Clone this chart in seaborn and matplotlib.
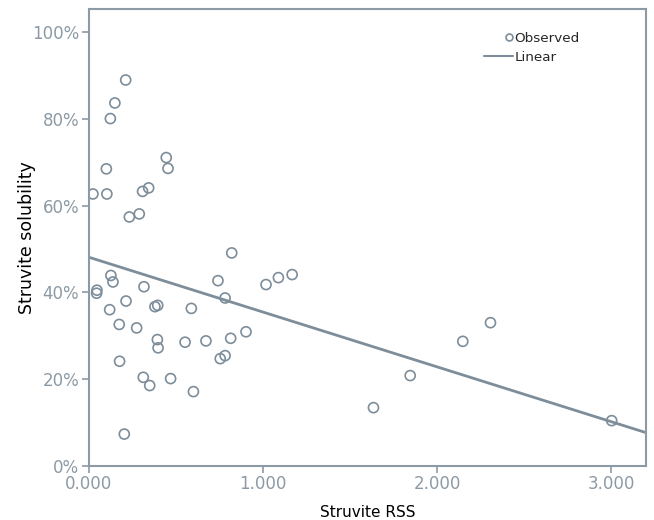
import numpy as np
import pandas as pd
import seaborn as sns
from matplotlib import pyplot as plt
from matplotlib.legend_handler import HandlerLine2D
from matplotlib.lines import Line2D
from matplotlib.ticker import FuncFormatter

# observed points (struvite RSS, solubility %)
rss = [0.211, 0.149, 0.123, 0.100, 0.023, 0.103, 0.444, 0.454, 0.308, 0.343,
       0.232, 0.289, 0.820, 0.126, 0.138, 0.046, 0.044, 0.316, 0.213, 0.119,
       0.379, 0.395, 0.588, 0.741, 0.782, 1.017, 1.088, 1.167, 0.174, 0.274,
       0.393, 0.397, 0.552, 0.672, 0.814, 0.902, 0.754, 0.782, 0.176, 0.312,
       0.349, 0.469, 0.600, 0.203, 2.306, 2.147, 1.845, 1.634, 3.002]
solubility = [89.0, 83.7, 80.1, 68.5, 62.7, 62.7, 71.1, 68.6, 63.3, 64.1,
              57.4, 58.1, 49.1, 43.9, 42.4, 40.5, 39.8, 41.3, 38.0, 36.0,
              36.7, 37.0, 36.3, 42.7, 38.7, 41.8, 43.4, 44.1, 32.6, 31.8,
              29.1, 27.2, 28.5, 28.8, 29.4, 30.9, 24.7, 25.4, 24.1, 20.4,
              18.5, 20.1, 17.1, 7.3, 33.0, 28.7, 20.8, 13.4, 10.4]

# linear fit
fit_intercept = 48.1
fit_slope = -12.65

x_ticks = [0, 1, 2, 3]
y_ticks = [0, 20, 40, 60, 80, 100]

gray = '#7d8d9a'
tick_gray = '#8c9aa5'


class RightMarker(HandlerLine2D):
    # put the legend marker at the right end of its handle box
    def create_artists(self, legend, orig_handle, xdescent, ydescent, width,
                       height, fontsize, trans):
        artists = super().create_artists(legend, orig_handle, xdescent,
                                         ydescent, width, height, fontsize,
                                         trans)
        x = -xdescent + width - 0.3 * fontsize
        artists[0].set_xdata([x, x, x])
        return artists


sns.set_style('white')
plt.rcParams['font.family'] = ['DejaVu Sans']

df = pd.DataFrame({'rss': rss, 'sol': solubility})

fig = plt.figure(figsize=(6.54, 5.2), dpi=100)
ax = fig.add_axes([0.136, 0.1044, 0.852, 0.8776])

sns.scatterplot(data=df, x='rss', y='sol', ax=ax, s=52, marker='o',
                facecolors='none', edgecolor=gray, linewidth=1.2)

xmin, xmax = 0, 3.2
line_x = np.array([xmin, xmax])
sns.lineplot(x=line_x, y=fit_intercept + fit_slope * line_x, ax=ax,
             color=gray, linewidth=2)

ax.set_xlim(xmin, xmax)
ax.set_ylim(0, 105.3)
ax.set_xticks(x_ticks)
ax.set_yticks(y_ticks)
ax.xaxis.set_major_formatter(FuncFormatter(lambda v, p: f'{v:.3f}'))
ax.yaxis.set_major_formatter(FuncFormatter(lambda v, p: f'{v:.0f}%'))

for s in ax.spines.values():
    s.set_color(tick_gray)
    s.set_linewidth(1.5)
ax.tick_params(axis='both', which='major', direction='out', length=5,
               width=1.2, color=tick_gray, labelcolor=tick_gray,
               labelsize=12, bottom=True, left=True, pad=2)

ax.set_xlabel('Struvite RSS', fontsize=11, color='black', labelpad=8)
ax.set_ylabel('Struvite solubility', fontsize=12.5, color='black', labelpad=-3)

obs = Line2D([], [], marker='o', linestyle='none', markerfacecolor='none',
             markeredgecolor=gray, markersize=5, markeredgewidth=1.2)
lin = Line2D([], [], color=gray, linewidth=1.5)
ax.legend([obs, lin], ['Observed', 'Linear'], loc='upper left',
          bbox_to_anchor=(0.70, 0.963), frameon=False, fontsize=9.7,
          handler_map={obs: RightMarker()}, handlelength=2.1,
          handletextpad=0.15, labelspacing=0.45, borderaxespad=0)

fig.savefig('out.png', dpi=100)
